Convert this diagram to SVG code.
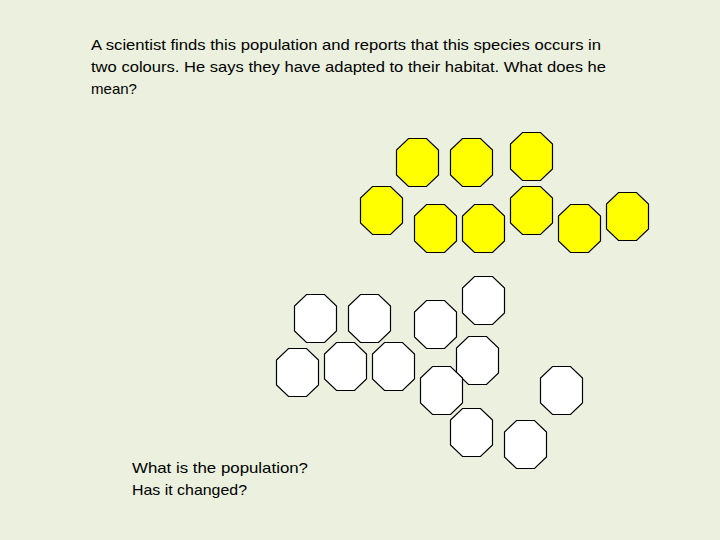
<svg xmlns="http://www.w3.org/2000/svg" xmlns:xlink="http://www.w3.org/1999/xlink" width="720" height="540" viewBox="0 0 720 540">
<style>
text{font-family:"Liberation Sans",Arial,sans-serif;font-size:15px;fill:#000}
.y{fill:#ffff00;stroke:#000;stroke-width:1.2}
.w{fill:#ffffff;stroke:#000;stroke-width:1.2}
</style>
<defs>
<polygon id="oct" points="12,0 30,0 42,11.5 42,36.5 30,48 12,48 0,36.5 0,11.5"/>
</defs>
<rect width="720" height="540" fill="#ebf1de"/>
<g id="question">
<text x="91" y="50" textLength="510" lengthAdjust="spacingAndGlyphs">A scientist finds this population and reports that this species occurs in</text>
<text x="91" y="72" textLength="515" lengthAdjust="spacingAndGlyphs">two colours. He says they have adapted to their habitat. What does he</text>
<text x="91" y="94" textLength="46" lengthAdjust="spacingAndGlyphs">mean?</text>
</g>
<g id="yellow">
<g id="y1"><use xlink:href="#oct" class="y" transform="translate(396.5,138.5)"/></g>
<g id="y2"><use xlink:href="#oct" class="y" transform="translate(450.5,138.5)"/></g>
<g id="y3"><use xlink:href="#oct" class="y" transform="translate(510.5,132.5)"/></g>
<g id="y4"><use xlink:href="#oct" class="y" transform="translate(360.5,186.5)"/></g>
<g id="y5"><use xlink:href="#oct" class="y" transform="translate(414.5,204.5)"/></g>
<g id="y6"><use xlink:href="#oct" class="y" transform="translate(462.5,204.5)"/></g>
<g id="y7"><use xlink:href="#oct" class="y" transform="translate(510.5,186.5)"/></g>
<g id="y8"><use xlink:href="#oct" class="y" transform="translate(558.5,204.5)"/></g>
<g id="y9"><use xlink:href="#oct" class="y" transform="translate(606.5,192.5)"/></g>
</g>
<g id="white">
<g id="w1"><use xlink:href="#oct" class="w" transform="translate(294.5,294.5)"/></g>
<g id="w2"><use xlink:href="#oct" class="w" transform="translate(348.5,294.5)"/></g>
<g id="w3"><use xlink:href="#oct" class="w" transform="translate(414.5,300.5)"/></g>
<g id="w4"><use xlink:href="#oct" class="w" transform="translate(462.5,276.5)"/></g>
<g id="w5"><use xlink:href="#oct" class="w" transform="translate(276.5,348.5)"/></g>
<g id="w6"><use xlink:href="#oct" class="w" transform="translate(324.5,342.5)"/></g>
<g id="w7"><use xlink:href="#oct" class="w" transform="translate(372.5,342.5)"/></g>
<g id="w8"><use xlink:href="#oct" class="w" transform="translate(456.5,336.5)"/></g>
<g id="w9"><use xlink:href="#oct" class="w" transform="translate(420.5,366.5)"/></g>
<g id="w10"><use xlink:href="#oct" class="w" transform="translate(540.5,366.5)"/></g>
<g id="w11"><use xlink:href="#oct" class="w" transform="translate(450.5,408.5)"/></g>
<g id="w12"><use xlink:href="#oct" class="w" transform="translate(504.5,420.5)"/></g>
</g>
<g id="connectors"/>
<g id="prompts">
<text x="132" y="473" textLength="176" lengthAdjust="spacingAndGlyphs">What is the population?</text>
<text x="132" y="495" textLength="115" lengthAdjust="spacingAndGlyphs">Has it changed?</text>
</g>
</svg>
